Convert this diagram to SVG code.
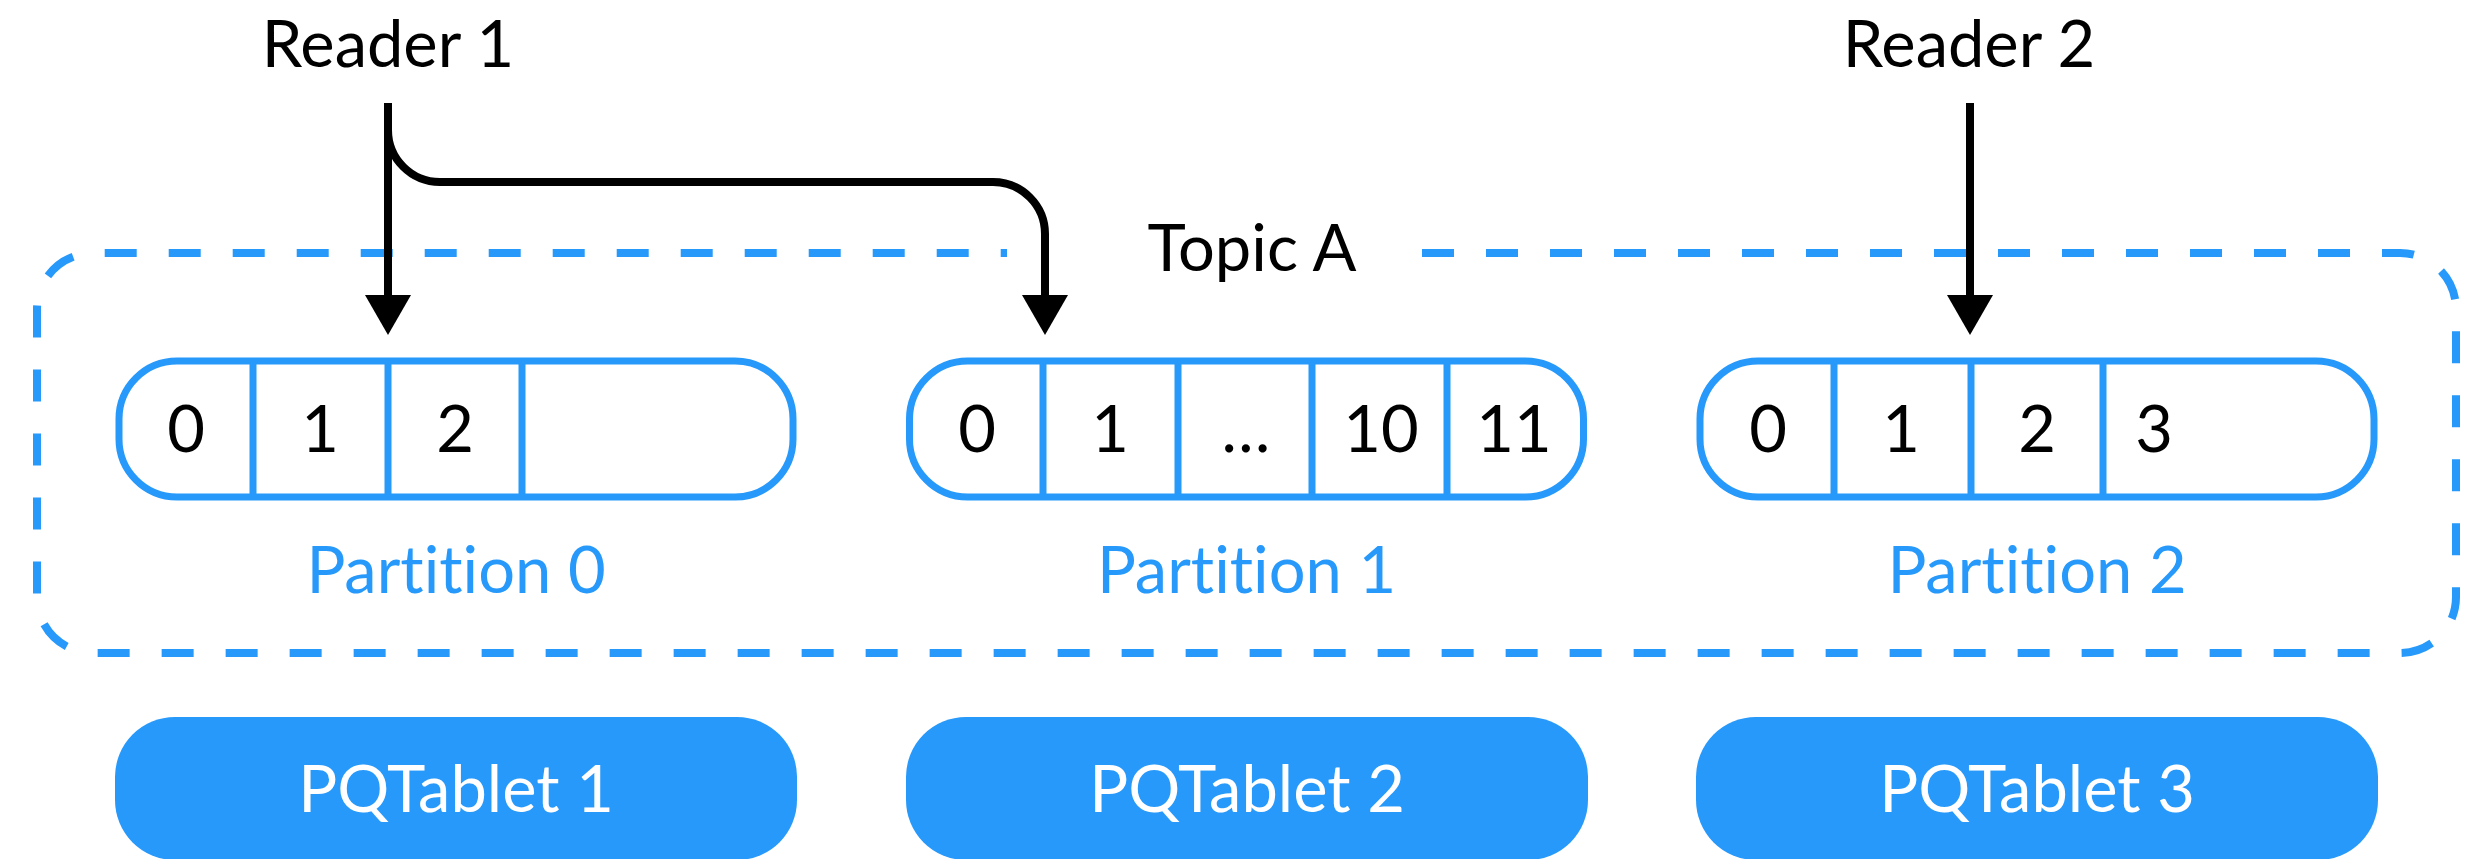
<svg xmlns="http://www.w3.org/2000/svg" width="2473" height="859" viewBox="0 0 2473 859">
  <style>
    .lbl { font-family: Lato, "Open Sans", "Liberation Sans", sans-serif; font-size: 65px; text-anchor: middle; font-variant-ligatures: none; font-feature-settings: "liga" 0, "dlig" 0; }
    .dark { fill: #000000; }
    .blue { fill: #2699fb; }
    .white { fill: #ffffff; }
    .part { fill: #ffffff; stroke: #2699fb; stroke-width: 7; }
    .div { stroke: #2699fb; stroke-width: 7; }
    .tablet { fill: #2699fb; }
    .topic { fill: none; stroke: #2699fb; stroke-width: 8; stroke-dasharray: 32 32; }
    .conn { fill: none; stroke: #000000; stroke-width: 8; }
  </style>
  <defs>
    <marker id="arrow" markerUnits="userSpaceOnUse" markerWidth="40" markerHeight="46" viewBox="0 0 40 46" refX="0" refY="23" orient="auto">
      <path d="M0,0 L40,23 L0,46 Z" fill="#000000"/>
    </marker>
  </defs>

  <rect width="2473" height="859" fill="#ffffff"/>

  <!-- Topic boundary, broken at the top for its title -->
  <g id="topic-a">
    <path class="topic" d="M1422,253 H2400 A56,56 0 0 1 2456,309 V597 A56,56 0 0 1 2400,653 H93 A56,56 0 0 1 37,597 V309 A56,56 0 0 1 93,253 H1007"/>
    <text class="lbl dark" x="1252" y="271">Topic A</text>
  </g>

  <!-- Readers -->
  <g id="reader-1">
    <text class="lbl dark" x="388" y="67">Reader 1</text>
  </g>
  <g id="reader-2">
    <text class="lbl dark" x="1969" y="67">Reader 2</text>
  </g>

  <!-- Partition 0 -->
  <g id="partition-0">
    <rect class="part" x="119" y="361" width="674" height="136" rx="58"/>
    <line class="div" x1="253" y1="361" x2="253" y2="497"/>
    <line class="div" x1="388" y1="361" x2="388" y2="497"/>
    <line class="div" x1="522" y1="361" x2="522" y2="497"/>
    <text class="lbl dark" x="186" y="452">0</text>
    <text class="lbl dark" x="320" y="452">1</text>
    <text class="lbl dark" x="455" y="452">2</text>
    <text class="lbl blue" x="456" y="593">Partition 0</text>
  </g>

  <!-- Partition 1 -->
  <g id="partition-1">
    <rect class="part" x="909.5" y="361" width="674" height="136" rx="58"/>
    <line class="div" x1="1043" y1="361" x2="1043" y2="497"/>
    <line class="div" x1="1178" y1="361" x2="1178" y2="497"/>
    <line class="div" x1="1312" y1="361" x2="1312" y2="497"/>
    <line class="div" x1="1447" y1="361" x2="1447" y2="497"/>
    <text class="lbl dark" x="977" y="452">0</text>
    <text class="lbl dark" x="1110" y="452">1</text>
    <text class="lbl dark" x="1246" y="452">…</text>
    <text class="lbl dark" x="1381" y="452">10</text>
    <text class="lbl dark" x="1514" y="452">11</text>
    <text class="lbl blue" x="1246.5" y="593">Partition 1</text>
  </g>

  <!-- Partition 2 -->
  <g id="partition-2">
    <rect class="part" x="1700" y="361" width="674" height="136" rx="58"/>
    <line class="div" x1="1834" y1="361" x2="1834" y2="497"/>
    <line class="div" x1="1971" y1="361" x2="1971" y2="497"/>
    <line class="div" x1="2103" y1="361" x2="2103" y2="497"/>
    <text class="lbl dark" x="1768" y="452">0</text>
    <text class="lbl dark" x="1901" y="452">1</text>
    <text class="lbl dark" x="2037" y="452">2</text>
    <text class="lbl dark" x="2154" y="452">3</text>
    <text class="lbl blue" x="2037" y="593">Partition 2</text>
  </g>

  <!-- Tablets -->
  <g id="pqtablet-1">
    <rect class="tablet" x="115" y="717" width="682" height="143" rx="60"/>
    <text class="lbl white" x="456" y="812">PQTablet 1</text>
  </g>
  <g id="pqtablet-2">
    <rect class="tablet" x="906" y="717" width="682" height="143" rx="60"/>
    <text class="lbl white" x="1247" y="812">PQTablet 2</text>
  </g>
  <g id="pqtablet-3">
    <rect class="tablet" x="1696" y="717" width="682" height="143" rx="60"/>
    <text class="lbl white" x="2037" y="812">PQTablet 3</text>
  </g>

  <!-- Connectors -->
  <g id="connectors">
    <path class="conn" d="M388,103 V295" marker-end="url(#arrow)"/>
    <path class="conn" d="M388,120 V130 A52,52 0 0 0 440,182 H993 A52,52 0 0 1 1045,234 V295" marker-end="url(#arrow)"/>
    <path class="conn" d="M1970,103 V295" marker-end="url(#arrow)"/>
  </g>
</svg>
